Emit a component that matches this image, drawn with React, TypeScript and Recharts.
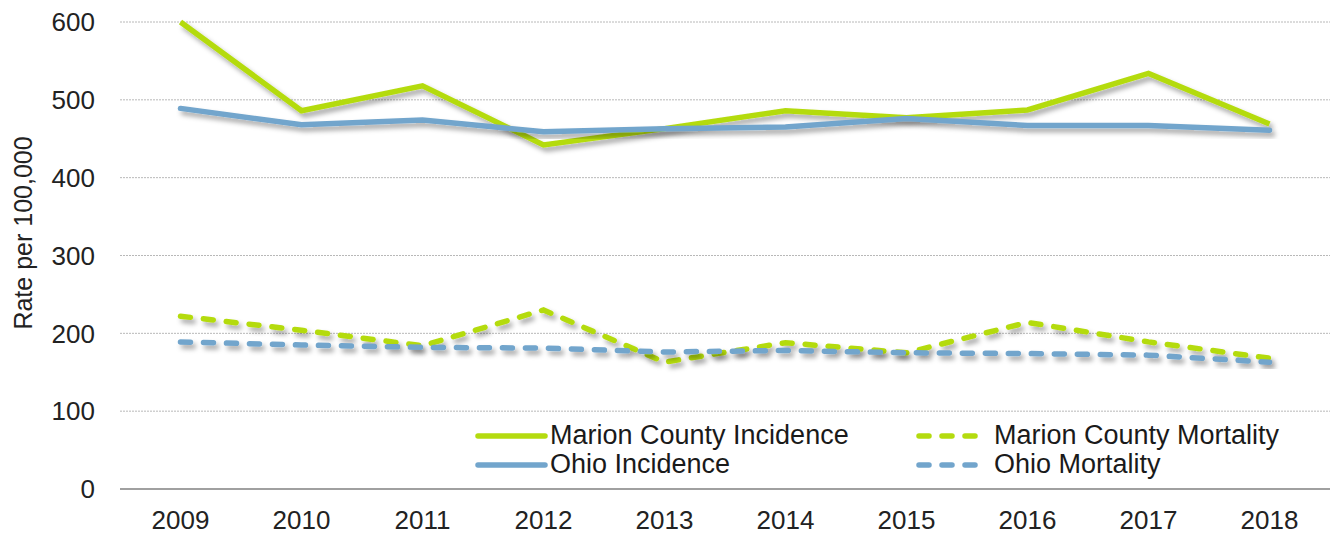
import React from 'react';
import { LineChart, Line, XAxis, YAxis, CartesianGrid, ReferenceLine } from 'recharts';

const years = ['2009', '2010', '2011', '2012', '2013', '2014', '2015', '2016', '2017', '2018'];
const marionIncidence = [600, 486, 518, 442, 463, 486, 477, 487, 534, 469];
const ohioIncidence = [489, 468, 474, 459, 463, 465, 476, 467, 467, 461];
const marionMortality = [222, 204, 184, 230, 163, 188, 175, 214, 189, 168];
const ohioMortality = [189, 185, 182, 181, 176, 178, 175, 174, 172, 163];
const yTicks = [0, 100, 200, 300, 400, 500, 600];

const GREEN = '#b4db0f';
const BLUE = '#72a5cc';
const FONT = '"Liberation Sans", Arial, sans-serif';
const DASH = '10 13';

const data = years.map((y, i) => ({
  year: y,
  mi: marionIncidence[i],
  oi: ohioIncidence[i],
  mm: marionMortality[i],
  om: ohioMortality[i],
}));

const legendItems = [
  { name: 'Marion County Incidence', color: GREEN, dashed: false },
  { name: 'Marion County Mortality', color: GREEN, dashed: true },
  { name: 'Ohio Incidence', color: BLUE, dashed: false },
  { name: 'Ohio Mortality', color: BLUE, dashed: true },
];

const LegendBox = () => (
  <div style={{ position: 'absolute', left: 475, top: 421, width: 830, height: 60, fontFamily: FONT, fontSize: 27, color: '#1a1a1a' }}>
    {legendItems.map((it, i) => {
      const col = i % 2;
      const row = Math.floor(i / 2);
      const left = col === 0 ? 0 : 440;
      const top = row * 29;
      return (
        <div key={it.name} style={{ position: 'absolute', left, top, height: 29, display: 'flex', alignItems: 'center', whiteSpace: 'nowrap' }}>
          <svg width={col === 0 ? 74 : 78} height={10} style={{ display: 'block' }}>
            {it.dashed ? (
              <line x1={4} y1={5} x2={66} y2={5} stroke={it.color} strokeWidth={5.5} strokeLinecap="round" strokeDasharray="10 13" />
            ) : (
              <line x1={3} y1={5} x2={70} y2={5} stroke={it.color} strokeWidth={5.5} strokeLinecap="round" />
            )}
          </svg>
          <span style={{ marginLeft: 1, lineHeight: '29px' }}>{it.name}</span>
        </div>
      );
    })}
  </div>
);

const YLabel = () => (
  <text
    x={23}
    y={233}
    transform="rotate(-90, 23, 233)"
    textAnchor="middle"
    dominantBaseline="central"
    fontFamily={FONT}
    fontSize={25}
    fill="#222"
  >
    Rate per 100,000
  </text>
);

export default function App() {
  return (
    <div style={{ position: 'absolute', left: 0, top: 0, width: 1330, height: 540, background: '#fff' }}>
      <LineChart width={1330} height={540} data={data} margin={{ top: 22, right: 0, bottom: 0, left: 0 }}>
        <defs>
          <filter id="shadow" x="-10%" y="-30%" width="120%" height="160%">
            <feDropShadow dx="3" dy="4" stdDeviation="2.5" floodColor="#000" floodOpacity="0.35" />
          </filter>
        </defs>
        <CartesianGrid vertical={false} stroke="#b8b8b8" strokeDasharray="2 1" />
        <XAxis
          dataKey="year"
          padding={{ left: 60.5, right: 60.5 }}
          height={51}
          axisLine={false}
          tickLine={false}
          tickSize={0}
          tickMargin={22}
          tick={{ fontFamily: FONT, fontSize: 26, fill: '#222' }}
          interval={0}
        />
        <YAxis
          domain={[0, 600]}
          ticks={yTicks}
          width={120}
          axisLine={false}
          tickLine={false}
          tickSize={0}
          tickMargin={25}
          tick={{ fontFamily: FONT, fontSize: 26, fill: '#222' }}
          label={{ content: () => <YLabel /> }}
        />
        <ReferenceLine y={0} stroke="#a0a0a0" strokeWidth={2} />
        <Line dataKey="mm" stroke={GREEN} strokeWidth={5.5} strokeDasharray={DASH} strokeLinecap="round" dot={false} isAnimationActive={false} filter="url(#shadow)" />
        <Line dataKey="om" stroke={BLUE} strokeWidth={5.5} strokeDasharray={DASH} strokeLinecap="round" dot={false} isAnimationActive={false} filter="url(#shadow)" />
        <Line dataKey="mi" stroke={GREEN} strokeWidth={5.5} strokeLinejoin="miter" dot={false} isAnimationActive={false} filter="url(#shadow)" />
        <Line dataKey="oi" stroke={BLUE} strokeWidth={5.5} strokeLinecap="round" dot={false} isAnimationActive={false} filter="url(#shadow)" />
      </LineChart>
      <LegendBox />
    </div>
  );
}
